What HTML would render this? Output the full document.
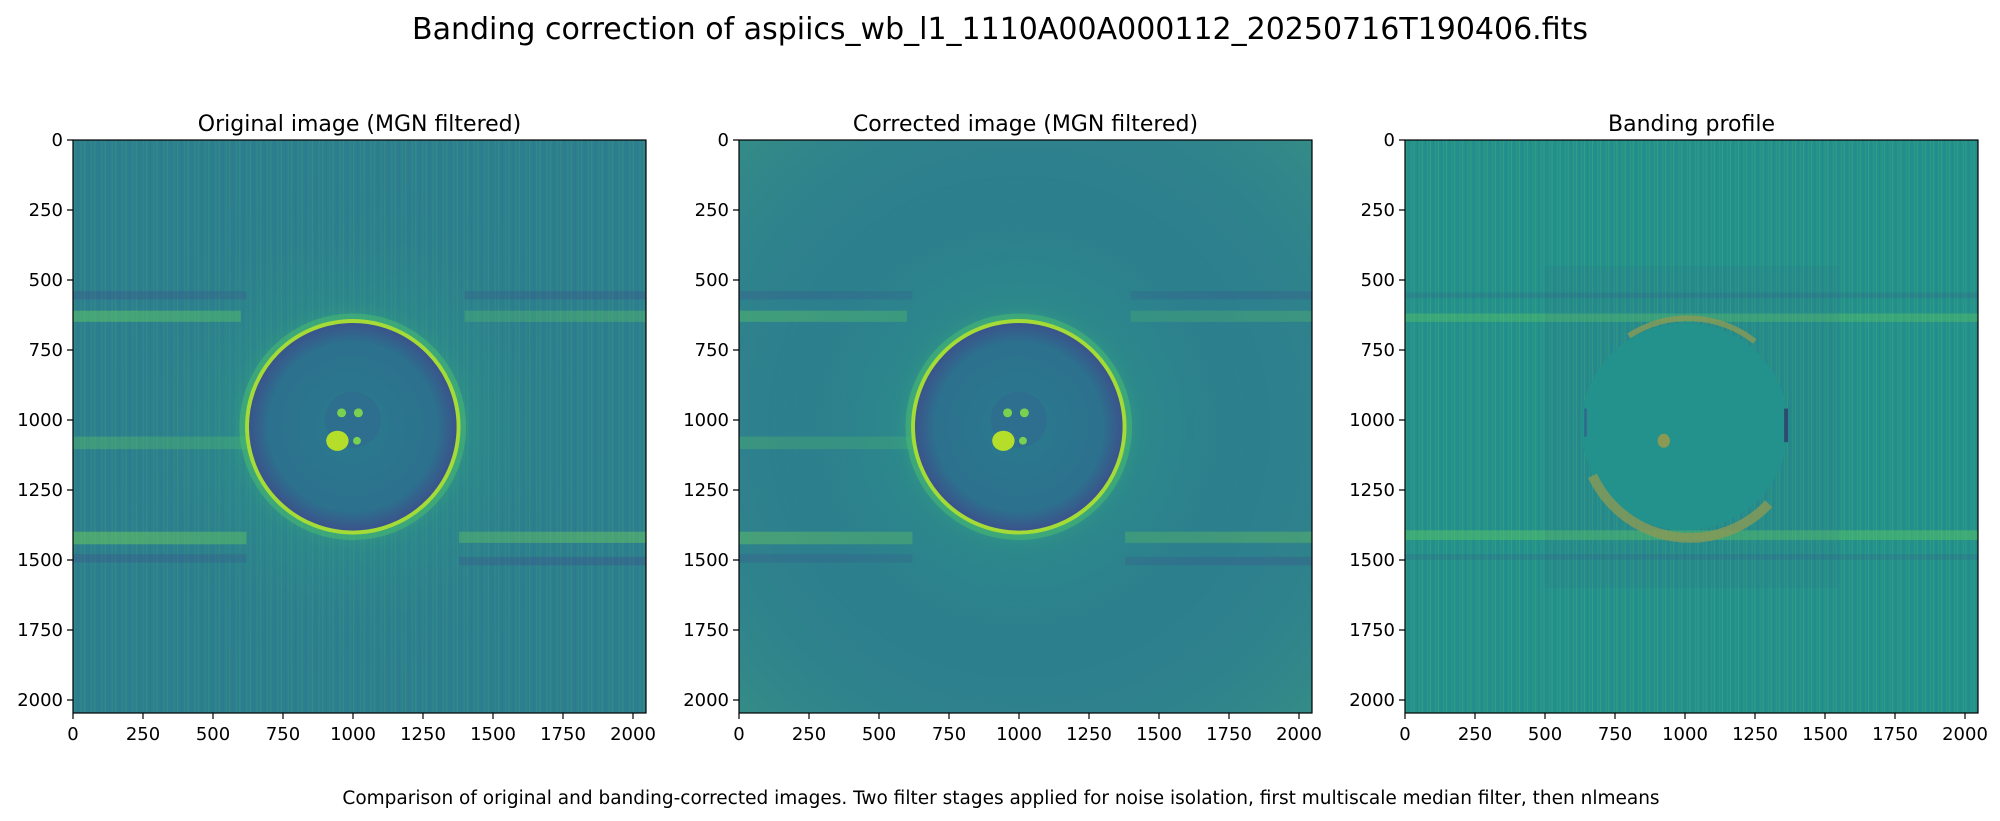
<!DOCTYPE html>
<html><head><meta charset="utf-8"><style>
html,body{margin:0;padding:0;background:#fff;}
svg{display:block;}
text{font-family:"DejaVu Sans","Liberation Sans",sans-serif;fill:#000;}
</style></head><body>
<svg width="2000" height="821" viewBox="0 0 2000 821" xmlns="http://www.w3.org/2000/svg">
<defs>
  <pattern id="vs" width="37" height="2048" patternUnits="userSpaceOnUse">
    <rect x="3" width="3" height="2048" fill="#6ccd5a" opacity="0.2"/>
    <rect x="17" width="2" height="2048" fill="#3b528b" opacity="0.2"/>
    <rect x="27" width="4" height="2048" fill="#5ec962" opacity="0.12"/>
  </pattern>
  <pattern id="vs3" width="29" height="2048" patternUnits="userSpaceOnUse">
    <rect x="2" width="3" height="2048" fill="#7ad151" opacity="0.25"/>
    <rect x="13" width="2" height="2048" fill="#3b528b" opacity="0.15"/>
    <rect x="21" width="3" height="2048" fill="#5ec962" opacity="0.2"/>
  </pattern>
  <radialGradient id="disk" cx="0.5" cy="0.5" r="0.5">
    <stop offset="0" stop-color="#2a7b8e"/>
    <stop offset="0.8" stop-color="#2c718e"/>
    <stop offset="1" stop-color="#3b528b"/>
  </radialGradient>
  <radialGradient id="cor" cx="0.5" cy="0.5" r="0.5">
    <stop offset="0.35" stop-color="#3fbc73" stop-opacity="0.6"/>
    <stop offset="0.5" stop-color="#2a9a86" stop-opacity="0.3"/>
    <stop offset="1" stop-color="#2a788e" stop-opacity="0"/>
  </radialGradient>
  <radialGradient id="cor2" cx="0.5" cy="0.5" r="0.75">
    <stop offset="0.5" stop-color="#2a788e" stop-opacity="0"/>
    <stop offset="1" stop-color="#3fa07a" stop-opacity="0.5"/>
  </radialGradient>
  <g id="sun">
    <circle cx="1000" cy="1025" r="900" fill="url(#cor)"/>
    <circle cx="1000" cy="1025" r="405" fill="#4ec36b" opacity="0.45"/>
    <circle cx="1000" cy="1025" r="375" fill="url(#disk)"/>
    <circle cx="1000" cy="1025" r="378" fill="none" stroke="#a5db36" stroke-width="14"/>
    <circle cx="1000" cy="1000" r="100" fill="#2f6c8e" opacity="0.8"/>
    <circle cx="960" cy="975" r="16" fill="#7ad151"/>
    <circle cx="1020" cy="975" r="16" fill="#7ad151"/>
    <circle cx="1015" cy="1075" r="14" fill="#7ad151"/>
    <ellipse cx="945" cy="1075" rx="40" ry="36" fill="#b5de2b"/>
  </g>
  <g id="bands">
    <rect x="0" y="540" width="620" height="30" fill="#3b528b" opacity="0.35"/>
    <rect x="0" y="610" width="600" height="40" fill="#5ec962" opacity="0.5"/>
    <rect x="1400" y="540" width="648" height="30" fill="#3b528b" opacity="0.35"/>
    <rect x="1400" y="610" width="648" height="40" fill="#5ec962" opacity="0.35"/>
    <rect x="0" y="1060" width="620" height="45" fill="#5ec962" opacity="0.35"/>
    <rect x="0" y="1400" width="620" height="45" fill="#6ccd5a" opacity="0.5"/>
    <rect x="0" y="1480" width="620" height="30" fill="#3b528b" opacity="0.35"/>
    <rect x="1380" y="1400" width="668" height="40" fill="#6ccd5a" opacity="0.45"/>
    <rect x="1380" y="1490" width="668" height="30" fill="#3b528b" opacity="0.4"/>
  </g>
</defs>

<text x="1000" y="39" font-size="30" text-anchor="middle">Banding correction of aspiics_wb_l1_1110A00A000112_20250716T190406.fits</text>

<!-- Panel 1 -->
<text x="359.5" y="131" font-size="22" text-anchor="middle">Original image (MGN filtered)</text>
<svg x="73" y="140" width="573" height="573" viewBox="0 0 2048 2048" preserveAspectRatio="none">
  <rect width="2048" height="2048" fill="#2c7f8e"/>
  <rect width="2048" height="2048" fill="url(#vs)"/>
  <use href="#bands"/>
  <use href="#sun"/>
</svg>
<rect x="73" y="140" width="573" height="573" fill="none" stroke="#000" stroke-width="1.2"/>

<!-- Panel 2 -->
<text x="1025.5" y="131" font-size="22" text-anchor="middle">Corrected image (MGN filtered)</text>
<svg x="739" y="140" width="573" height="573" viewBox="0 0 2048 2048" preserveAspectRatio="none">
  <rect width="2048" height="2048" fill="#2d808e"/>
  <rect width="2048" height="2048" fill="url(#cor2)"/>
  <use href="#bands" opacity="0.8"/>
  <use href="#sun"/>
</svg>
<rect x="739" y="140" width="573" height="573" fill="none" stroke="#000" stroke-width="1.2"/>

<!-- Panel 3 -->
<text x="1691.5" y="131" font-size="22" text-anchor="middle">Banding profile</text>
<svg x="1405" y="140" width="573" height="573" viewBox="0 0 2048 2048" preserveAspectRatio="none">
  <rect width="2048" height="2048" fill="#22908c"/>
  <rect width="2048" height="2048" fill="url(#vs3)"/>
  <rect x="0" y="545" width="2048" height="20" fill="#3b528b" opacity="0.2"/>
  <rect x="0" y="620" width="2048" height="30" fill="#5ec962" opacity="0.4"/>
  <rect x="0" y="1395" width="2048" height="35" fill="#5ec962" opacity="0.45"/>
  <rect x="0" y="1480" width="2048" height="20" fill="#3b528b" opacity="0.2"/>
  <rect x="500" y="450" width="1050" height="1150" fill="#3b528b" opacity="0.08"/>
  <circle cx="1000" cy="1025" r="370" fill="#23918c"/>
  <path d="M 800 700 A 385 385 0 0 1 1250 720" fill="none" stroke="#8a9a55" stroke-width="20" opacity="0.8"/>
  <path d="M 670 1200 A 385 385 0 0 0 1300 1300" fill="none" stroke="#8a9a55" stroke-width="35" opacity="0.8"/>
  <rect x="1355" y="960" width="14" height="120" fill="#30386a" opacity="0.8"/>
  <rect x="640" y="960" width="10" height="100" fill="#3b528b" opacity="0.6"/>
  <ellipse cx="925" cy="1075" rx="22" ry="25" fill="#8a9a55"/>
</svg>
<rect x="1405" y="140" width="573" height="573" fill="none" stroke="#000" stroke-width="1.2"/>

<!-- ticks -->
<g stroke="#000" stroke-width="1.2">
  <path d="M73 713v6M143 713v6M213 713v6M283 713v6M353 713v6M423 713v6M493 713v6M563 713v6M633 713v6
           M739 713v6M809 713v6M879 713v6M949 713v6M1019 713v6M1089 713v6M1159 713v6M1229 713v6M1299 713v6
           M1405 713v6M1475 713v6M1545 713v6M1615 713v6M1685 713v6M1755 713v6M1825 713v6M1895 713v6M1965 713v6"/>
  <path d="M73 140h-6M73 210h-6M73 280h-6M73 350h-6M73 420h-6M73 490h-6M73 560h-6M73 630h-6M73 700h-6
           M739 140h-6M739 210h-6M739 280h-6M739 350h-6M739 420h-6M739 490h-6M739 560h-6M739 630h-6M739 700h-6
           M1405 140h-6M1405 210h-6M1405 280h-6M1405 350h-6M1405 420h-6M1405 490h-6M1405 560h-6M1405 630h-6M1405 700h-6"/>
</g>
<g font-size="18" text-anchor="middle">
  <text x="73" y="740">0</text><text x="143" y="740">250</text><text x="213" y="740">500</text><text x="283" y="740">750</text><text x="353" y="740">1000</text><text x="423" y="740">1250</text><text x="493" y="740">1500</text><text x="563" y="740">1750</text><text x="633" y="740">2000</text>
  <text x="739" y="740">0</text><text x="809" y="740">250</text><text x="879" y="740">500</text><text x="949" y="740">750</text><text x="1019" y="740">1000</text><text x="1089" y="740">1250</text><text x="1159" y="740">1500</text><text x="1229" y="740">1750</text><text x="1299" y="740">2000</text>
  <text x="1405" y="740">0</text><text x="1475" y="740">250</text><text x="1545" y="740">500</text><text x="1615" y="740">750</text><text x="1685" y="740">1000</text><text x="1755" y="740">1250</text><text x="1825" y="740">1500</text><text x="1895" y="740">1750</text><text x="1965" y="740">2000</text>
</g>
<g font-size="18" text-anchor="end">
  <text x="63" y="146">0</text><text x="63" y="216">250</text><text x="63" y="286">500</text><text x="63" y="356">750</text><text x="63" y="426">1000</text><text x="63" y="496">1250</text><text x="63" y="566">1500</text><text x="63" y="636">1750</text><text x="63" y="706">2000</text>
  <text x="729" y="146">0</text><text x="729" y="216">250</text><text x="729" y="286">500</text><text x="729" y="356">750</text><text x="729" y="426">1000</text><text x="729" y="496">1250</text><text x="729" y="566">1500</text><text x="729" y="636">1750</text><text x="729" y="706">2000</text>
  <text x="1395" y="146">0</text><text x="1395" y="216">250</text><text x="1395" y="286">500</text><text x="1395" y="356">750</text><text x="1395" y="426">1000</text><text x="1395" y="496">1250</text><text x="1395" y="566">1500</text><text x="1395" y="636">1750</text><text x="1395" y="706">2000</text>
</g>

<text x="1001" y="804" font-size="18.5" text-anchor="middle">Comparison of original and banding-corrected images. Two filter stages applied for noise isolation, first multiscale median filter, then nlmeans</text>
</svg>
</body></html>
